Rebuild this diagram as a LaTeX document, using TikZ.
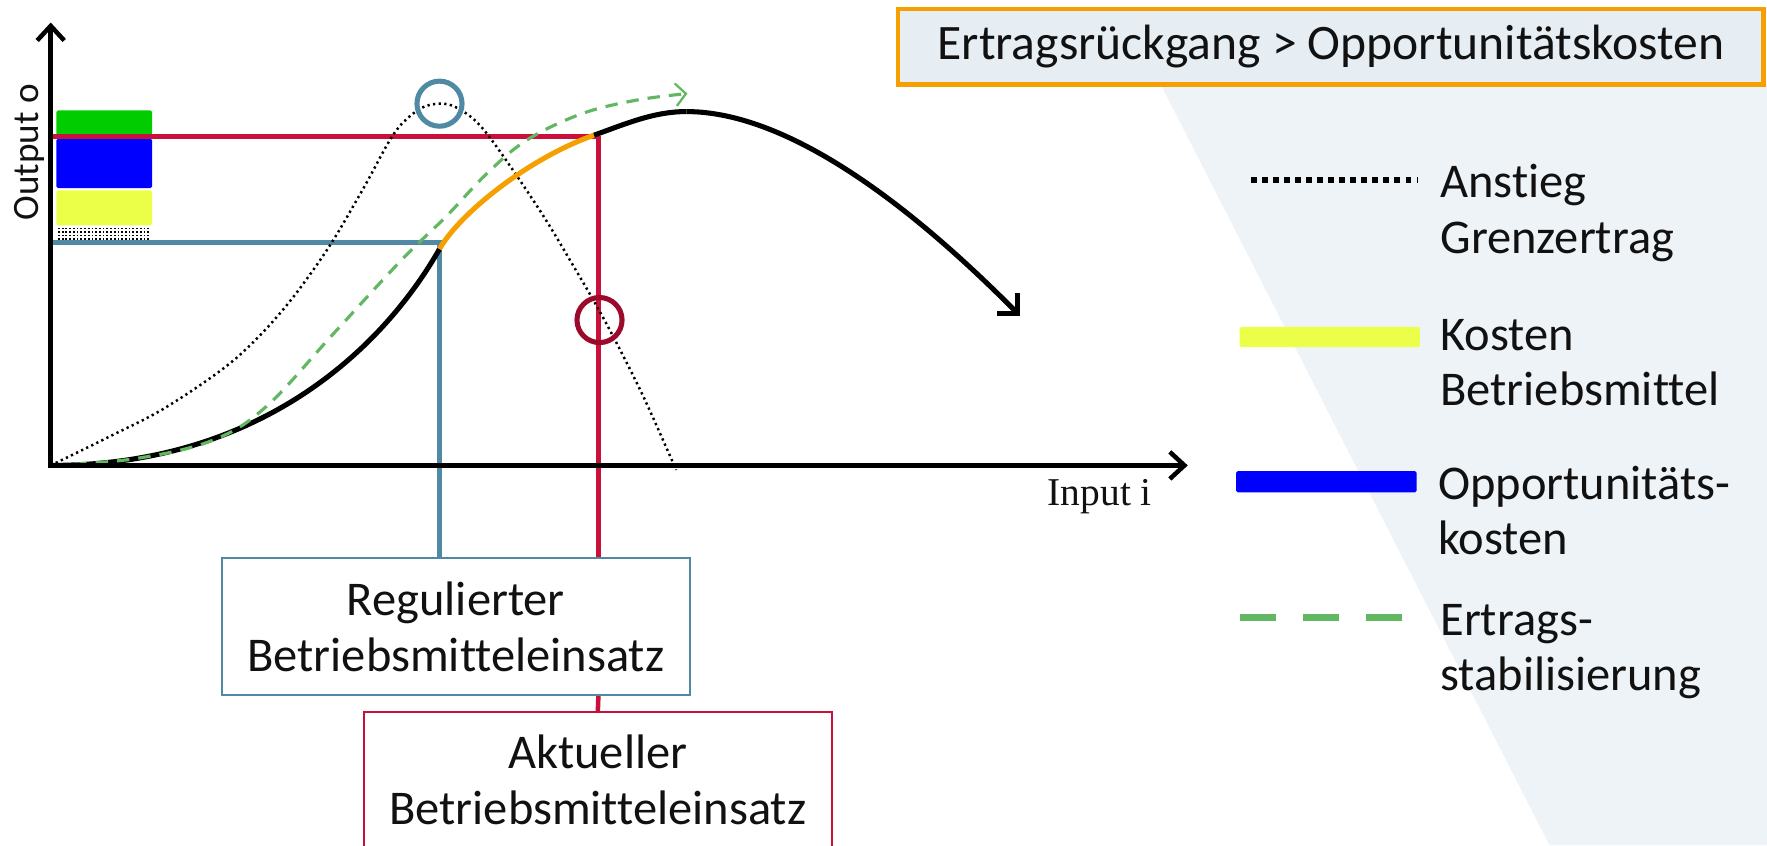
\documentclass[tikz,border=0pt]{standalone}
\usepackage{fontspec}
\setmainfont{Carlito}[Ligatures=NoCommon]
\newfontfamily\inputfont{Liberation Serif}
\usetikzlibrary{arrows.meta}
\definecolor{cred}{RGB}{200,16,58}
\definecolor{cblue}{RGB}{80,137,163}
\definecolor{ccirc}{RGB}{155,10,42}
\definecolor{corange}{RGB}{245,160,0}
\definecolor{cgreen}{RGB}{0,204,0}
\definecolor{cbar}{RGB}{0,0,255}
\definecolor{cyellow}{RGB}{236,255,72}
\definecolor{cdash}{RGB}{98,183,98}
\definecolor{cbg}{RGB}{238,243,247}
\definecolor{cbox}{RGB}{230,237,243}
\definecolor{ctext}{RGB}{17,17,17}
\tikzset{
  legtext/.style={font=\fontsize{43}{49}\selectfont, text=ctext, align=left, inner sep=0pt, anchor=west},
  axisline/.style={line width=4pt, -{Straight Barb[length=13pt,width=24pt,line width=4pt]}},
  maincurve/.style={line width=4.5pt},
  dotcurve/.style={line width=2.2pt, dash pattern=on 2pt off 3pt},
  greencurve/.style={cdash, line width=2.8pt, dash pattern=on 11pt off 8pt},
  redline/.style={cred, line width=4pt},
  blueline/.style={cblue, line width=4.2pt},
  infobox/.style={draw, line width=1.5pt, fill=white, minimum width=415pt, inner sep=0pt,
     font=\fontsize{43}{50}\selectfont, text=ctext, align=center}
}
\begin{document}
\begin{tikzpicture}[x=1pt,y=-1pt]
\useasboundingbox (0,0) rectangle (1568,750);
% background wedge
\fill[cbg] (1030,75) -- (1375,750) -- (1568,750) -- (1568,75) -- cycle;
% header
\node[draw=corange, line width=4pt, fill=cbox, minimum width=768pt, minimum height=67pt, inner sep=0pt,
      font=\fontsize{44}{50}\selectfont, text=ctext] (head) at (1181,41.5) {Ertragsrückgang > Opportunitätskosten};

% coordinates
\coordinate (O) at (45,413);
\coordinate (ytip) at (45,20);
\coordinate (xtip) at (1054,413);
\coordinate (yred) at (45,121);
\coordinate (ybl) at (45,215);
\coordinate (pred) at (531,121);
\coordinate (pbl) at (390,215);
\coordinate (B) at (390,221);
\coordinate (C) at (527,120);
\coordinate (D) at (609,99);
\coordinate (E) at (905,280);

% stacked bars on y axis
\fill[cgreen, rounded corners=1.5pt] (50,98) rectangle (135,120);
\fill[cbar, rounded corners=1.5pt] (50,123) rectangle (135,167);
\fill[cyellow, rounded corners=1.5pt] (50,169) rectangle (135,200);
\foreach \i in {0,...,24} {\foreach \j in {0,...,3} {
  \fill ({51.5+3.3*\i},{202+3.1*\j}) rectangle ++(1.6,1.6);
}}

% info boxes
\node[infobox, draw=cblue, minimum height=122pt] (reg) at (404.5,556) {Regulierter\\Betriebsmitteleinsatz};
\node[infobox, draw=cred, minimum height=120pt] (akt) at (530.5,692) {Aktueller\\Betriebsmitteleinsatz};

% horizontal/vertical reference lines
\draw[redline] (yred) -- (pred);
\draw[redline] (pred) -- (pred |- reg.north);
\draw[redline] (pred |- reg.south) -- (akt.north);
\draw[blueline] (ybl) -- (pbl) -- (reg.north -| pbl);

% dotted marginal curve
\draw[dotcurve] plot[smooth, tension=0.55] coordinates {(45,413) (98,387) (148,361) (207,320) (251,275) (290,222) (322,168) (350,118) (372,97) (390,92) (406,96) (430,116) (476,182) (510,238) (538,287) (570,350) (600,417)};

% main curve
\draw[maincurve] (O) .. controls (240,413) and (345,300) .. (B);
\draw[maincurve] (C) .. controls (555,110) and (580,99) .. (D);
\draw[maincurve, -{Straight Barb[length=13pt,width=26pt,line width=4pt]}] (D) .. controls (720,99) and (850,225) .. (E);
\draw[corange, line width=4.5pt] (B) .. controls (408,189) and (470,140) .. (C);

% green dashed curve (on top of the main curve)
\draw[greencurve, -{Straight Barb[length=9pt,width=20pt,line width=2pt]}] plot[smooth, tension=0.6] coordinates {(47,413) (120,407) (188,391) (236,361) (296,296) (356,231) (396,192) (432,154) (468,124) (516,101) (564,89) (610,83)};

% circles
\draw[cblue, line width=4.5pt] (390,92) circle (20);
\draw[ccirc, line width=4.5pt] (532,284) circle (20);

% axes
\draw[axisline] (O) -- (ytip);
\draw[axisline] ([xshift=-2pt]O) -- (xtip);

% axis labels
\node[rotate=90, anchor=base, font=\fontsize{33}{40}\selectfont, text=ctext, inner sep=0pt] (ylab) at (34,135) {Output o};
\node[font=\inputfont\fontsize{35}{40}\selectfont, text=ctext, inner sep=0pt] (xlab) at (976,441) {Input i};

% legend
\coordinate (l1a) at (1110,160); \coordinate (l1b) at (1258,160);
\draw[line width=5pt, dash pattern=on 5pt off 4.8pt] (l1a) -- (l1b);
\node[legtext] (leg1) at (1278,189) {Anstieg\\Grenzertrag};
\fill[cyellow, rounded corners=1.5pt] (1100,290) rectangle (1260,308);
\node[legtext] (leg2) at (1278,322) {Kosten\\Betriebsmittel};
\fill[cbar, rounded corners=1.5pt] (1097,418) rectangle (1257,437);
\node[legtext] (leg3) at (1276,453) {Opportunitäts-\\kosten};
\coordinate (l4a) at (1100,548); \coordinate (l4b) at (1260,548);
\draw[cdash, line width=5.5pt, dash pattern=on 32pt off 24pt] (l4a) -- (l4b);
\node[legtext] (leg4) at (1278,578) {Ertrags-\\stabilisierung};
\end{tikzpicture}
\end{document}
